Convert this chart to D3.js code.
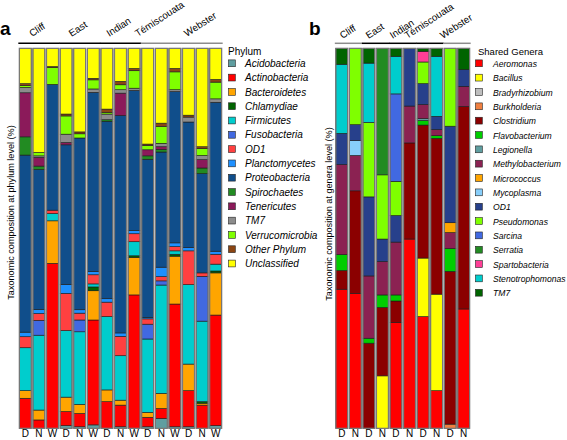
<!DOCTYPE html>
<html><head><meta charset="utf-8">
<script src="https://cdn.jsdelivr.net/npm/d3@7"></script>
<style>
body{margin:0;background:#fff;}
svg{display:block;font-family:Arial,"Liberation Sans",sans-serif;}
</style>
</head><body>
<svg id="chart" width="567" height="440"></svg>
<script>
// ---------- categories ----------
const sites = ["Cliff", "East", "Indian", "Témiscouata", "Webster"];
const samplesA = ["D", "N", "W"];
const samplesB = ["D", "N"];

const phyla = ["Acidobacteria","Actinobacteria","Bacteroidetes","Chlamydiae","Firmicutes","Fusobacteria","OD1","Planctomycetes","Proteobacteria","Spirochaetes","Tenericutes","TM7","Verrucomicrobia","Other Phylum","Unclassified"];
const phylaColors = ["#5f9ea0","#ff0000","#ffa500","#006400","#00cdcd","#4169e1","#ff4040","#1e90ff","#104e8b","#228b22","#8b1a5a","#8c8c8c","#7fff00","#8b4513","#ffff00"];

const genera = ["Aeromonas","Bacillus","Bradyrhizobium","Burkholderia","Clostridium","Flavobacterium","Legionella","Methylobacterium","Micrococcus","Mycoplasma","OD1","Pseudomonas","Sarcina","Serratia","Spartobacteria","Stenotrophomonas","TM7"];
const generaColors = ["#ff0000","#ffff00","#bebebe","#f08040","#8b0000","#00cd00","#5f9ea0","#8b2252","#ffa500","#87cefa","#27408b","#7fff00","#4169e1","#228b22","#ff3e96","#00cdcd","#006400"];

// ---------- phylum-level composition (%), one array per sample, in phyla order ----------
const aCliffD   = [0, 7.9, 2.0, 0, 11.3, 0, 2.9, 1.2, 46.6, 4.8, 11.6, 1.4, 0.5, 0.5, 9.3];
const aCliffN   = [0, 2.2, 2.6, 0, 19.7, 3.9, 1.8, 1.1, 36.8, 0.9, 2.3, 0.4, 0.9, 0, 27.4];
const aCliffW   = [0, 43.4, 11.2, 0, 1.9, 0, 0.9, 0, 33.1, 0, 0, 0, 4.4, 0.3, 4.8];
const aEastD    = [0.7, 3.7, 3.8, 0, 17.5, 0, 9.8, 2.3, 36.8, 0, 0.6, 2.2, 4.8, 0.5, 17.3];
const aEastN    = [0.4, 3.5, 2.4, 0, 19.1, 3.1, 1.8, 0.9, 45.2, 0, 0, 0, 1.1, 0.5, 22.0];
const aEastW    = [0.9, 27.6, 7.7, 1.0, 0.8, 0, 2.4, 0.9, 47.1, 0, 0, 0.9, 2.4, 0.4, 7.9];
const aIndianD  = [0, 7.0, 3.1, 0, 19.3, 0, 3.8, 0.9, 46.7, 0.4, 0, 1.5, 0.4, 0.9, 16.0];
const aIndianN  = [0.4, 5.7, 1.3, 0, 11.7, 0, 5.1, 0.9, 57.2, 0, 5.9, 0.9, 1.3, 0.9, 8.7];
const aIndianW  = [0, 35.1, 9.9, 0.4, 3.7, 0, 2.1, 0.9, 36.8, 0, 0, 0.6, 4.6, 0.6, 5.3];
const aTemD     = [0.4, 2.5, 1.3, 0, 19.3, 3.9, 1.4, 0.4, 41.6, 0.9, 1.6, 0, 1.1, 0.4, 25.2];
const aTemN     = [2.6, 2.6, 4.0, 0, 28.5, 1.1, 1.1, 2.5, 30.3, 0.7, 0.7, 0.9, 4.4, 0.9, 19.7];
const aTemW     = [0.4, 32.3, 12.6, 0.5, 0.9, 0, 1.1, 1.0, 39.8, 0, 0, 0.5, 4.7, 0.9, 5.3];
const aWebD     = [0.4, 9.5, 7.0, 0, 20.9, 0, 8.9, 0.9, 33.0, 0, 0, 1.3, 0, 0.5, 17.6];
const aWebN     = [0, 6.1, 0.5, 0.4, 21.2, 11.8, 0.9, 0, 26.1, 1.5, 2.2, 1.1, 1.8, 0.5, 25.9];
const aWebW     = [0.7, 29.1, 11.1, 0.5, 1.8, 0, 2.6, 0.8, 39.2, 0, 0, 0.9, 4.4, 0.7, 8.2];

// ---------- genera-level composition (%), one array per sample, in genera order ----------
const bCliffD  = [36.6, 0, 0, 0, 4.9, 4.2, 0, 23.7, 0, 0, 8.2, 0, 0, 0, 0, 18.2, 4.2];
const bCliffN  = [35.5, 0, 0, 0, 27.0, 0, 0, 9.3, 0, 3.9, 4.2, 20.1, 0, 0, 0, 0, 0];
const bEastD   = [0, 0, 0, 0, 22.4, 1.3, 0, 16.4, 0, 0, 20.8, 19.6, 0, 0, 0, 15.6, 3.9];
const bEastN   = [0, 13.8, 0, 0, 18.0, 3.3, 0, 8.8, 0, 0, 5.9, 16.9, 0, 33.3, 0, 0, 0];
const bIndianD = [27.8, 0, 0, 0, 5.7, 1.6, 0, 13.9, 0, 0, 7.0, 9.0, 23.0, 0, 0, 9.9, 2.1];
const bIndianN = [49.8, 0, 0, 0, 25.3, 0, 0, 9.7, 0, 0, 15.2, 0, 0, 0, 0, 0, 0];
const bTemD    = [29.4, 15.4, 0, 0, 35.0, 1.2, 0.5, 3.7, 0, 0, 5.5, 5.7, 0, 0, 2.8, 0, 0.8];
const bTemN    = [9.9, 25.4, 0, 0, 41.0, 0.7, 0, 1.6, 0, 0, 3.5, 0, 0, 0, 0, 15.8, 2.1];
const bWebD    = [0, 0, 0, 1.1, 40.2, 6.0, 0, 4.2, 2.6, 0, 25.4, 20.5, 0, 0, 0, 0, 0];
const bWebN    = [31.4, 0, 0, 0, 53.3, 0, 0, 5.3, 0, 0, 4.4, 0, 0, 0, 0, 0, 5.6];

const barsA = [aCliffD,aCliffN,aCliffW,aEastD,aEastN,aEastW,aIndianD,aIndianN,aIndianW,aTemD,aTemN,aTemW,aWebD,aWebN,aWebW];
const barsB = [bCliffD,bCliffN,bEastD,bEastN,bIndianD,bIndianN,bTemD,bTemN,bWebD,bWebN];

// ---------- drawing ----------
const svg = d3.select("#chart");
const yTop = 48.3, yBot = 428.3;
const ANG = 33;

function drawPanel(cfg) {
  const ids = [];
  sites.forEach(s => cfg.samples.forEach(m => ids.push(s + "|" + m)));
  const x = d3.scaleBand().domain(ids).range(cfg.xRange).paddingInner(0.12).paddingOuter(0.06);
  const y = d3.scaleLinear().domain([0, 100]).range([yBot, yTop]);
  const rows = cfg.bars.map((vals, i) => {
    const o = { id: ids[i] };
    cfg.keys.forEach((k, j) => o[k] = vals[j]);
    return o;
  });
  const series = d3.stack().keys(cfg.keys)(rows);
  const g = svg.append("g");

  series.forEach((s, si) => {
    g.append("g").selectAll("rect")
      .data(s.filter(d => d[1] - d[0] > 0))
      .join("rect")
      .attr("x", d => x(d.data.id))
      .attr("width", x.bandwidth())
      .attr("y", d => y(d[1]))
      .attr("height", d => y(d[0]) - y(d[1]))
      .attr("fill", cfg.colors[si])
      .attr("stroke", "#1a1a1a")
      .attr("stroke-width", 0.6);
  });

  g.append("g").selectAll("rect").data(ids).join("rect")
    .attr("x", d => x(d)).attr("width", x.bandwidth())
    .attr("y", y(100)).attr("height", y(0) - y(100))
    .attr("fill", "none").attr("stroke", "#7a7a7a").attr("stroke-width", 1.2);

  // sample labels (D / N / W)
  const ax = g.append("g").attr("transform", `translate(0,${yBot})`)
    .call(d3.axisBottom(x).tickSize(0).tickPadding(1.8).tickFormat(d => d.split("|")[1]));
  ax.select(".domain").remove();
  ax.selectAll("text").attr("font-size", 10).attr("font-family", "Arial, 'Liberation Sans', sans-serif").attr("fill", "#000");

  // site group lines & rotated labels
  sites.forEach((s, i) => {
    const first = x(s + "|" + cfg.samples[0]);
    const last = x(s + "|" + cfg.samples[cfg.samples.length - 1]) + x.bandwidth();
    g.append("line").attr("x1", first - 1).attr("x2", last + 1)
      .attr("y1", 43.3).attr("y2", 43.3)
      .attr("stroke", cfg.lineColors[i]).attr("stroke-width", 1.5);
    const cx = (first + last) / 2;
    const t = g.append("text").text(s).attr("font-size", 9.8).attr("fill", "#000");
    const w = t.node().getComputedTextLength();
    const sx = cx - w * Math.cos(ANG * Math.PI / 180) / 2 + cfg.labelDx;
    t.attr("transform", `translate(${sx},${cfg.labelY}) rotate(${-ANG})`);
  });

  // y title
  g.append("text")
    .attr("transform", `translate(${cfg.titleX},${cfg.titleY}) rotate(-90)`)
    .attr("text-anchor", "middle").attr("font-size", 9.1).attr("fill", "#000")
    .text(cfg.title);

  // panel letter
  g.append("text").attr("x", cfg.letterX).attr("y", 35).attr("font-size", 19)
    .attr("font-weight", "bold").attr("fill", "#000").text(cfg.letter);

  // legend
  const lg = g.append("g");
  lg.append("text").attr("x", cfg.legX).attr("y", 55).attr("font-size", cfg.legTitleSize)
    .attr("fill", "#000").text(cfg.legTitle);
  const item = lg.selectAll("g.item").data(cfg.keys).join("g")
    .attr("transform", (d, i) => `translate(0,${63.3 + i * cfg.legStep})`);
  item.append("rect").attr("x", cfg.legSqX).attr("y", -3.4).attr("width", 6.8).attr("height", 6.8)
    .attr("fill", (d, i) => cfg.colors[i]).attr("stroke", "#222").attr("stroke-width", 0.6);
  item.append("text").attr("x", cfg.legTextX).attr("y", 3.6)
    .attr("font-size", cfg.legSize).attr("font-style", "italic").attr("fill", "#000").text(d => d);
}

drawPanel({
  samples: samplesA, bars: barsA, keys: phyla, colors: phylaColors,
  xRange: [18.5, 222.5],
  lineColors: ["#000", "#000", "#000", "#8c8c8c", "#8c8c8c"],
  labelY: 37, labelDx: 0,
  title: "Taxonomic composition at phylum level (%)", titleX: 14, titleY: 212.5,
  letter: "a", letterX: 0,
  legTitle: "Phylum", legTitleSize: 10, legX: 228, legSqX: 228.5, legTextX: 245, legSize: 10, legStep: 14.3
});

drawPanel({
  samples: samplesB, bars: barsB, keys: genera, colors: generaColors,
  xRange: [335, 470.5],
  lineColors: ["#8c8c8c", "#000", "#000", "#000", "#8c8c8c"],
  labelY: 39, labelDx: 1,
  title: "Taxonomic composition at genera level (%)", titleX: 332, titleY: 214,
  letter: "b", letterX: 309,
  legTitle: "Shared Genera", legTitleSize: 9.5, legX: 478, legSqX: 475.5, legTextX: 493, legSize: 8.6, legStep: 14.34
});
</script>
</body></html>
